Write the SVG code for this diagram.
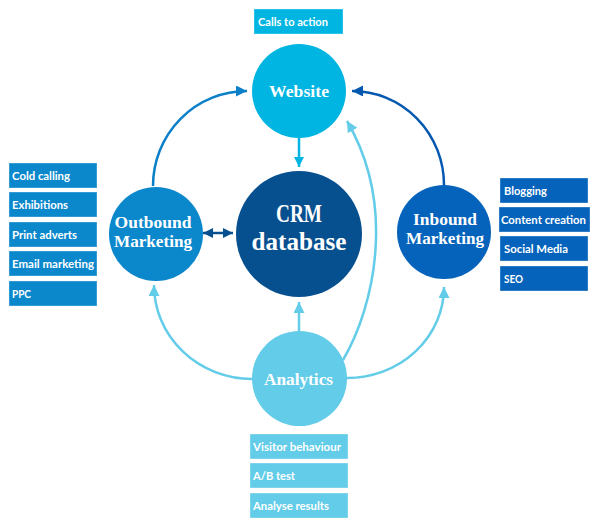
<svg xmlns="http://www.w3.org/2000/svg" width="600" height="527" viewBox="0 0 600 527">
<defs>
<style>
.box{stroke:#ffffff;stroke-opacity:0.35;stroke-width:1}
.bt{font-family:Lato,"Open Sans",sans-serif;font-weight:700;font-size:11.5px;fill:#ffffff}
.ct{font-family:"Liberation Serif","DejaVu Serif",serif;font-weight:700;font-size:17px;fill:#ffffff;text-anchor:middle}
.big{font-size:25px}
.ln{fill:none;stroke-width:2.5}
</style>
<marker id="aCyan" viewBox="0 0 10 10" refX="10" refY="5" markerWidth="10" markerHeight="10" markerUnits="userSpaceOnUse" orient="auto"><path d="M0,0 L10,5 L0,10 Z" fill="#00b5e2"/></marker>
<marker id="aLight" viewBox="0 0 10 10" refX="10" refY="5" markerWidth="11" markerHeight="11" markerUnits="userSpaceOnUse" orient="auto"><path d="M0,0 L10,5 L0,10 Z" fill="#63cce9"/></marker>
<marker id="aMid" viewBox="0 0 10 10" refX="10" refY="5" markerWidth="11" markerHeight="11" markerUnits="userSpaceOnUse" orient="auto"><path d="M0,0 L10,5 L0,10 Z" fill="#0b80c8"/></marker>
<marker id="aDeep" viewBox="0 0 10 10" refX="10" refY="5" markerWidth="11" markerHeight="11" markerUnits="userSpaceOnUse" orient="auto"><path d="M0,0 L10,5 L0,10 Z" fill="#0558b0"/></marker>
<marker id="aNavyE" viewBox="0 0 10 10" refX="10" refY="5" markerWidth="10" markerHeight="10" markerUnits="userSpaceOnUse" orient="auto"><path d="M0,0 L10,5 L0,10 Z" fill="#07508f"/></marker>
<marker id="aNavyS" viewBox="0 0 10 10" refX="0" refY="5" markerWidth="10" markerHeight="10" markerUnits="userSpaceOnUse" orient="auto"><path d="M10,0 L0,5 L10,10 Z" fill="#07508f"/></marker>
</defs>
<rect width="600" height="527" fill="#ffffff"/>

<g id="connectors">
<path class="ln" d="M299,138 L299,167" stroke="#00b5e2" marker-end="url(#aCyan)"/>
<path class="ln" d="M203,233 L233,233" stroke="#07508f" marker-start="url(#aNavyS)" marker-end="url(#aNavyE)"/>
<path class="ln" d="M153,186 A94,95 0 0 1 247,91" stroke="#0b80c8" marker-end="url(#aMid)"/>
<path class="ln" d="M444,185 A92,94 0 0 0 352,91" stroke="#0558b0" marker-end="url(#aDeep)"/>
<path class="ln" d="M252,379 A98,94 0 0 1 154,285" stroke="#63cce9" marker-end="url(#aLight)"/>
<path class="ln" d="M347,378 A97,91 0 0 0 444,287" stroke="#63cce9" marker-end="url(#aLight)"/>
<path class="ln" d="M299,332 L299,302" stroke="#63cce9" marker-end="url(#aLight)"/>
<path class="ln" d="M343,360 C375,305 396,205 347,121" stroke="#63cce9" marker-end="url(#aLight)"/>
</g>

<g id="website">
<circle cx="299" cy="91" r="47" fill="#00b5e2"/>
<text class="ct" x="299" y="97" font-size="18" textLength="60" lengthAdjust="spacingAndGlyphs">Website</text>
</g>
<g id="calls-to-action">
<rect class="box" x="254" y="9" width="89" height="25" fill="#00b5e2"/>
<text class="bt" x="258" y="26" textLength="70" lengthAdjust="spacingAndGlyphs">Calls to action</text>
</g>

<g id="crm">
<circle cx="299" cy="234" r="63" fill="#07508f"/>
<text class="ct big" x="299" y="222" textLength="46" lengthAdjust="spacingAndGlyphs">CRM</text>
<text class="ct big" x="299" y="250" textLength="95" lengthAdjust="spacingAndGlyphs">database</text>
</g>

<g id="outbound">
<circle cx="156" cy="234" r="47" fill="#0b87cc"/>
<text class="ct" x="153" y="228" textLength="77" lengthAdjust="spacingAndGlyphs">Outbound</text>
<text class="ct" x="153" y="247" textLength="78" lengthAdjust="spacingAndGlyphs">Marketing</text>
</g>
<g id="outbound-items">
<rect class="box" x="9" y="163" width="88" height="25" fill="#0b87cc"/>
<text class="bt" x="12" y="180" textLength="58" lengthAdjust="spacingAndGlyphs">Cold calling</text>
<rect class="box" x="9" y="192" width="88" height="25" fill="#0b87cc"/>
<text class="bt" x="12" y="209" textLength="56" lengthAdjust="spacingAndGlyphs">Exhibitions</text>
<rect class="box" x="9" y="222" width="88" height="25" fill="#0b87cc"/>
<text class="bt" x="12" y="239" textLength="65" lengthAdjust="spacingAndGlyphs">Print adverts</text>
<rect class="box" x="9" y="251" width="88" height="25" fill="#0b87cc"/>
<text class="bt" x="12" y="268" textLength="82" lengthAdjust="spacingAndGlyphs">Email marketing</text>
<rect class="box" x="9" y="281" width="88" height="25" fill="#0b87cc"/>
<text class="bt" x="12" y="298" textLength="19" lengthAdjust="spacingAndGlyphs">PPC</text>
</g>

<g id="inbound">
<circle cx="444" cy="232" r="47" fill="#0563bb"/>
<text class="ct" x="445" y="225" textLength="64" lengthAdjust="spacingAndGlyphs">Inbound</text>
<text class="ct" x="445" y="244" textLength="78" lengthAdjust="spacingAndGlyphs">Marketing</text>
</g>
<g id="inbound-items">
<rect class="box" x="500" y="178" width="88" height="25" fill="#0563bb"/>
<text class="bt" x="504" y="195" textLength="43" lengthAdjust="spacingAndGlyphs">Blogging</text>
<rect class="box" x="499" y="207" width="91" height="25" fill="#0563bb"/>
<text class="bt" x="501" y="224" textLength="85" lengthAdjust="spacingAndGlyphs">Content creation</text>
<rect class="box" x="500" y="236" width="88" height="25" fill="#0563bb"/>
<text class="bt" x="504" y="253" textLength="64" lengthAdjust="spacingAndGlyphs">Social Media</text>
<rect class="box" x="500" y="266" width="88" height="25" fill="#0563bb"/>
<text class="bt" x="504" y="283" textLength="19" lengthAdjust="spacingAndGlyphs">SEO</text>
</g>

<g id="analytics">
<circle cx="299.5" cy="378.5" r="47.5" fill="#63cce9"/>
<text class="ct" x="298.5" y="385" font-size="18" textLength="69" lengthAdjust="spacingAndGlyphs">Analytics</text>
</g>
<g id="analytics-items">
<rect class="box" x="250" y="434" width="98" height="25" fill="#63cce9"/>
<text class="bt" x="253" y="451" textLength="88" lengthAdjust="spacingAndGlyphs">Visitor behaviour</text>
<rect class="box" x="250" y="463" width="98" height="25" fill="#63cce9"/>
<text class="bt" x="253" y="480" textLength="42" lengthAdjust="spacingAndGlyphs">A/B test</text>
<rect class="box" x="250" y="493" width="98" height="25" fill="#63cce9"/>
<text class="bt" x="253" y="510" textLength="76" lengthAdjust="spacingAndGlyphs">Analyse results</text>
</g>
</svg>
